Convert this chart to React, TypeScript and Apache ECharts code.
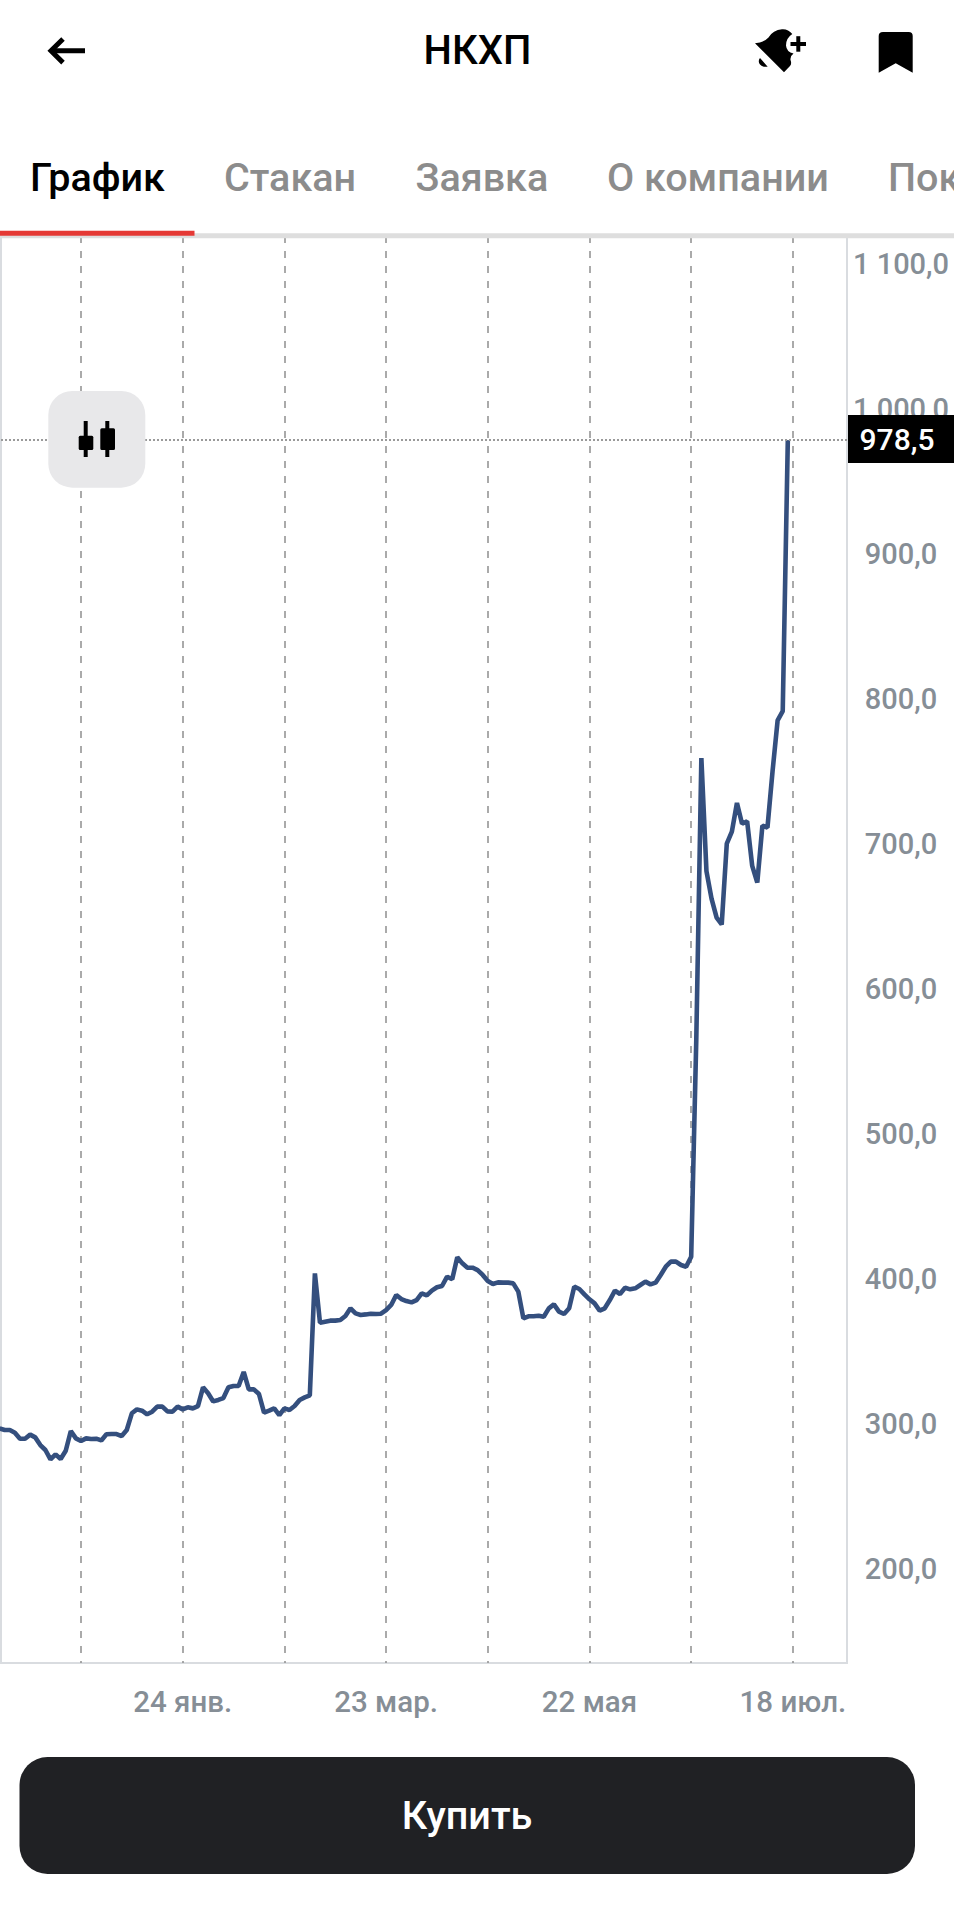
import React, { useEffect, useRef } from "react";
import * as echarts from "echarts";

const firstBar = -16;
const priceValues = [
  297.0, 295.9, 295.9, 294.0, 289.9, 289.9, 292.7, 290.8, 285.5, 282.1, 275.6, 279.1, 275.9, 281.6, 295.2, 290.1,
  288.3, 290.1, 289.7, 289.9, 288.7, 292.9, 293.1, 293.1, 291.7, 295.9, 307.4, 310.1, 309.2, 306.7, 308.5, 312.0,
  312.0, 308.7, 308.5, 312.0, 310.1, 311.5, 310.8, 312.4, 325.3, 321.2, 315.6, 316.6, 317.9, 325.3, 326.2, 326.2,
  335.9, 323.9, 323.9, 320.7, 307.8, 309.2, 310.8, 306.2, 310.8, 309.7, 312.4, 316.6, 318.4, 319.8, 403.9, 369.9,
  370.6, 371.3, 371.3, 371.7, 374.5, 379.8, 376.3, 375.2, 375.6, 376.1, 375.9, 376.1, 378.6, 382.1, 389.0, 386.2,
  384.8, 383.9, 385.5, 390.1, 388.7, 392.0, 394.3, 395.2, 401.6, 399.8, 415.0, 410.8, 407.8, 407.8, 406.2, 402.8,
  398.6, 396.6, 397.7, 397.5, 397.5, 397.0, 391.3, 372.9, 374.3, 374.3, 374.7, 374.0, 379.8, 382.5, 377.5, 375.9,
  379.8, 394.7, 393.1, 389.4, 386.0, 383.2, 378.2, 379.8, 385.5, 392.0, 389.7, 394.0, 392.9, 393.6, 395.9, 398.2,
  396.3, 397.5, 402.8, 408.5, 412.0, 412.0, 409.7, 408.5, 415.4, 565.0, 759.2, 681.3, 662.3, 649.2, 644.5, 700.3,
  708.6, 728.3, 714.0, 715.7, 684.9, 673.4, 712.6, 711.4, 750.2, 785.3, 791.7, 978.5,
];
const lastPrice = 978.5;
const yTicks = [200, 300, 400, 500, 600, 700, 800, 900, 1000, 1100];
const gridBars = [0, 20, 40, 60, 80, 100, 120, 140];
const labelBars = [20, 60, 100, 140];
const dateLabels = ["24 янв.", "23 мар.", "22 мая", "18 июл."];
const tabs = ["Стакан", "Заявка", "О компании", "Пок"];
const tabX = [224, 415.5, 607, 888];

const FONT = "Roboto";
const GREY = "#868e96";

echarts.graphic.registerShape(
  "bellIcon",
  echarts.graphic.extendPath(
    "M755 43.3 Q764 42.5 768.5 37.5 Q773 30 782 29.3 Q788 28.8 792.3 34 Q786 38 786 45.5 Q786.5 52 793.5 53.5 Q790 56 790.5 60 Q792 64 790 66 L784 72.3 Z M760 58 L767.7 66.7 Q763 67.5 760 64.5 Q757.5 61 760 58 Z",
    {}
  ) as any
);
echarts.graphic.registerShape(
  "bookmarkIcon",
  echarts.graphic.extendPath(
    "M883 32 H908.7 Q912.7 32 912.7 36 V72.7 L895.7 63.3 L878.7 72.7 V36 Q878.7 32 883 32 Z",
    {}
  ) as any
);

const fmt = (v: number) =>
  v.toFixed(1).replace(".", ",").replace(/\B(?=(\d{3})(?!\d))/g, " ");

export default function App() {
  const ref = useRef<HTMLDivElement>(null);
  useEffect(() => {
    document.body.style.margin = "0";
    const chart = echarts.init(ref.current!, undefined, { renderer: "svg" });
    const seriesData = priceValues.map((v, k) => [firstBar + k, v]);
    const txt = (text: string, x: number, y: number, fontSize: number, fill: string, fontWeight: number, align = "left") => ({
      type: "text",
      z: 100,
      x,
      y,
      style: { text, fontSize, fill, fontWeight, fontFamily: FONT, align, verticalAlign: "middle" },
    });
    chart.setOption({
      animation: false,
      backgroundColor: "#ffffff",
      grid: {
        show: true,
        left: 1,
        right: 107,
        top: 236,
        height: 1427,
        borderColor: "#d9dce0",
        borderWidth: 2,
        backgroundColor: "#ffffff",
      },
      xAxis: {
        type: "value",
        min: -15.73,
        max: 150.64,
        axisLine: { show: false },
        axisTick: { show: false, customValues: gridBars },
        splitLine: { show: true, lineStyle: { color: "#8e8e8e", width: 1.5, type: [7, 8] } },
        axisLabel: {
          customValues: labelBars,
          formatter: (v: number) => dateLabels[labelBars.indexOf(v)] ?? "",
          color: GREY,
          fontFamily: FONT,
          fontSize: 29.5,
          fontWeight: 500,
          margin: 24,
          showMinLabel: true,
          showMaxLabel: true,
        },
      },
      yAxis: {
        type: "value",
        position: "right",
        min: 135.2,
        max: 1119.3,
        axisLine: { show: false },
        axisTick: { show: false, customValues: yTicks },
        splitLine: { show: false },
        axisLabel: {
          customValues: yTicks,
          formatter: (v: number) => fmt(v),
          color: GREY,
          fontFamily: FONT,
          fontSize: 29,
          fontWeight: 500,
          align: "center",
          margin: 54,
        },
      },
      series: [
        {
          type: "line",
          data: seriesData,
          showSymbol: false,
          symbol: "none",
          lineStyle: { color: "#344f7e", width: 4.6 },
          markLine: {
            silent: true,
            symbol: "none",
            label: { show: false },
            lineStyle: { color: "#9a9a9a", type: [2, 2], width: 2 },
            data: [{ yAxis: lastPrice }],
          },
        },
      ],
      graphic: [
        // top band
        { type: "rect", z: 90, shape: { x: 0, y: 233.3, width: 954, height: 5 }, style: { fill: "#dedede" } },
        { type: "rect", z: 91, shape: { x: 0, y: 230.7, width: 194.5, height: 5 }, style: { fill: "#e53935" } },
        // header
        { type: "polyline", z: 100, shape: { points: [[85, 50.8], [52, 50.8]] }, style: { stroke: "#000", lineWidth: 5, fill: "none" } },
        { type: "polyline", z: 100, shape: { points: [[63, 39], [51, 50.8], [63, 62.6]] }, style: { stroke: "#000", lineWidth: 5, fill: "none" } },
        txt("НКХП", 477.5, 50, 40, "#000000", 500, "center"),
        // bell
        { type: "bellIcon", z: 100, x: 0, y: 0, scaleX: 1, scaleY: 1, style: { fill: "#000" } },
        { type: "rect", z: 100, shape: { x: 790.5, y: 42, width: 15.5, height: 4 }, style: { fill: "#000" } },
        { type: "rect", z: 100, shape: { x: 796.3, y: 36.2, width: 4, height: 15.5 }, style: { fill: "#000" } },
        // bookmark
        { type: "bookmarkIcon", z: 100, x: 0, y: 0, scaleX: 1, scaleY: 1, style: { fill: "#000" } },
        // tabs
        txt("График", 30, 177, 39.5, "#000000", 500),
        ...tabs.map((t, i) => txt(t, tabX[i], 177, 39.5, "#8c8c8c", 500)),
        // candle toggle
        { type: "rect", z: 100, shape: { x: 48.3, y: 391, width: 97, height: 96.7, r: 24 }, style: { fill: "#e8e8ea" } },
        { type: "rect", z: 101, shape: { x: 83.7, y: 421, width: 4, height: 36 }, style: { fill: "#000" } },
        { type: "rect", z: 101, shape: { x: 78.7, y: 435.7, width: 14.6, height: 14.3, r: 1.5 }, style: { fill: "#000" } },
        { type: "rect", z: 101, shape: { x: 105.3, y: 421, width: 4, height: 36 }, style: { fill: "#000" } },
        { type: "rect", z: 101, shape: { x: 100.3, y: 428.3, width: 14.7, height: 21.7, r: 1.5 }, style: { fill: "#000" } },
        // price tag
        { type: "rect", z: 100, shape: { x: 848, y: 415, width: 106, height: 48 }, style: { fill: "#000" } },
        txt(fmt(lastPrice), 897, 439.5, 30, "#ffffff", 500, "center"),
        // buy button
        { type: "rect", z: 100, shape: { x: 19.5, y: 1757, width: 895.5, height: 117, r: 28 }, style: { fill: "#202124" } },
        txt("Купить", 467, 1815, 39.5, "#ffffff", 500, "center"),
      ],
    });
    return () => chart.dispose();
  }, []);
  return <div ref={ref} style={{ position: "absolute", left: 0, top: 0, width: 954, height: 1920 }} />;
}
